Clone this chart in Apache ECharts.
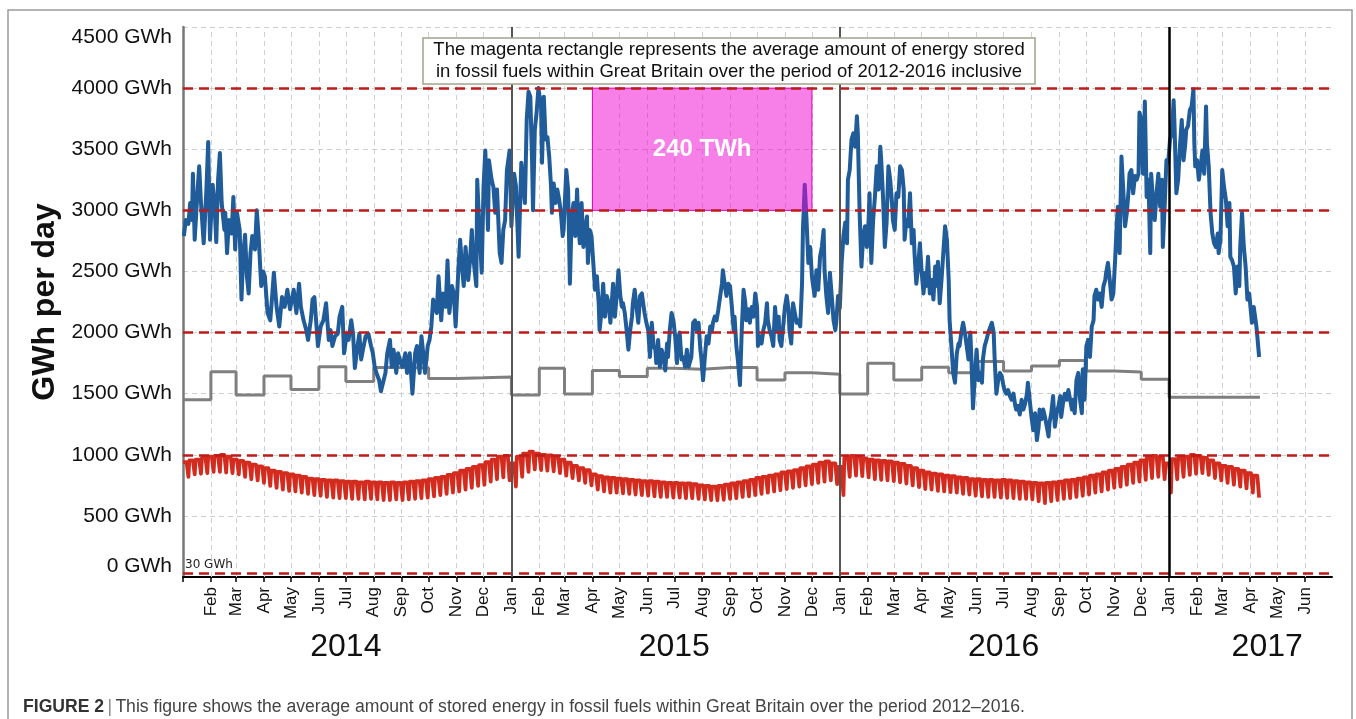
<!DOCTYPE html>
<html>
<head>
<meta charset="utf-8">
<title>Stored energy in fossil fuels, Great Britain</title>
<script src="https://cdn.jsdelivr.net/npm/echarts@6/dist/echarts.min.js"></script>
<style>
  html, body { margin: 0; padding: 0; background: #fff; }
  #chart { width: 1356px; height: 719px; }
</style>
</head>
<body>
<div id="chart"></div>
<script>
// ---- data (days are counted from 1 Jan 2014) ----
const monthNames = ['Jan', 'Feb', 'Mar', 'Apr', 'May', 'Jun', 'Jul', 'Aug', 'Sep', 'Oct', 'Nov', 'Dec'];
const xStart = '2014-01-01';
const xEnd = '2017-07-01';
const yearLabelDates = ['2014-07-01', '2015-07-01', '2016-07-01', '2017-04-20'];
const yearLineDates = ['2015-01-01', '2016-01-01', '2017-01-01'];
const refLevels = [30, 1000, 2000, 3000, 4000];

// magenta block: average stored energy 2012-2016
const rectFrom = '2015-04-01';
const rectTo = '2015-12-01';
const rectLow = 3000;
const rectHigh = 4000;
const rectLabel = '240 TWh';

const noteLines = [
  'The magenta rectangle represents the average amount of energy stored',
  'in fossil fuels within Great Britain over the period of 2012-2016 inclusive'
];

// blue: daily gas demand [day, GWh]
const blue2014 = [[1,2790],[3,2920],[6,2890],[8,3060],[10,2920],[11,3300],[13,2760],[16,3140],[18,3360],[20,3060],[23,2730],[26,3170],[28,3560],[30,2760],[33,3210],[35,3060],[37,2740],[39,3250],[41,3470],[43,3060],[46,2840],[47,2980],[49,2650],[51,2920],[54,2810],[56,3110],[58,2680],[60,2980],[63,2840],[65,2270],[67,2650],[69,2800],[71,2460],[73,2320],[75,2650],[77,2790],[80,2680],[82,3000],[84,2790],[86,2510],[87,2380],[89,2500],[91,2460],[94,2160],[97,2100],[99,2290],[101,2490],[104,2210],[107,2050],[110,2290],[113,2210],[116,2350],[119,2190],[121,2270],[123,2350],[126,2160],[129,2400],[131,2210],[134,2100],[137,2020],[139,1940],[142,2100],[144,2270],[146,2290],[149,1990],[150,1890],[153,2050],[156,2100],[159,2240],[162,1940],[164,2020],[166,1890],[169,1970],[172,1990],[174,2130],[177,2210],[179,1830],[182,1990],[184,1940],[187,2100],[189,1990],[191,1710],[194,1890],[196,1990],[198,1780],[200,1860],[203,1970],[206,1990],[209,1890],[211,1830],[213,1720],[215,1670],[218,1610],[220,1520],[223,1610],[225,1670],[227,1830],[230,1940],[232,1720],[234,1860],[237,1670],[239,1830],[242,1750],[244,1720],[247,1830],[249,1670],[252,1830],[255,1500],[258,1830],[260,1890],[263,1670],[265,1970],[267,1830],[269,1670],[272,1890],[274,1940],[276,2050],[278,2270],[280,2210],[282,2160],[284,2460],[287,2100],[289,2320],[292,2210],[294,2590],[296,2160],[299,2380],[301,2320],[303,2050],[306,2510],[308,2760],[310,2540],[312,2380],[314,2700],[317,2430],[319,2590],[321,2840],[323,2590],[326,2380],[327,3250],[329,2920],[332,2490],[334,3190],[336,3490],[339,2840],[340,3410],[343,3250],[345,3190],[347,2980],[349,3170],[352,2650],[354,2570],[356,2840],[358,2920],[360,3330],[363,3490]];
const blue2015 = [[365,2870],[368,3300],[370,3200],[373,2620],[376,3390],[380,3060],[382,3740],[384,3970],[386,3930],[388,3390],[389,3000],[391,3660],[393,3800],[395,4000],[398,3850],[399,3390],[401,3930],[403,3580],[405,3600],[407,3440],[409,3200],[410,2980],[412,3220],[414,3060],[416,3170],[418,3090],[420,2980],[422,2790],[423,2840],[426,3330],[428,3170],[430,2400],[432,2950],[434,3060],[436,2790],[438,3170],[439,2950],[441,2730],[443,3060],[445,2700],[447,2840],[449,2950],[450,2570],[452,2840],[454,2790],[456,2570],[458,2350],[460,2460],[462,2240],[463,2020],[465,2160],[467,2400],[469,2130],[471,2300],[473,2240],[475,2080],[476,2190],[478,2400],[480,2130],[482,2300],[484,2510],[486,2300],[488,2210],[489,2240],[491,2160],[493,2020],[495,1860],[497,2020],[499,2130],[500,2240],[502,2350],[504,2210],[506,2080],[508,2300],[510,2320],[512,2210],[513,2160],[515,2080],[517,2020],[519,1800],[521,2080],[523,1890],[525,1860],[526,1750],[528,1940],[530,1720],[532,1860],[534,1800],[536,1690],[538,1910],[539,1800],[541,2020],[543,2160],[545,2100],[547,1970],[549,1750],[550,1940],[552,2000],[554,1780],[556,1800],[558,1720],[560,1860],[562,1720],[563,1750],[565,1800],[567,2080],[569,2100],[571,2020],[573,2080],[575,1860],[576,1800],[578,1610],[580,1800],[582,1970],[584,1910],[586,2050],[588,2020],[589,2080],[591,2130],[593,2100],[595,2190],[597,2190],[599,2400],[600,2510],[602,2400],[604,2300],[606,2400],[608,2380],[610,2210],[612,2020],[613,2130],[615,1890],[617,1750],[619,1570],[621,2020],[623,2350],[625,2240],[626,2100],[628,2190],[630,2080],[632,2210],[634,2130],[636,2320],[638,2210],[639,1890],[641,1970],[643,1910],[645,2020],[647,2080],[649,2240],[650,2100],[652,2020],[654,1970],[656,1890],[658,2210],[660,2020],[662,2130],[663,1940],[665,1890],[667,2050],[669,2210],[671,2300],[673,2190],[674,2020],[676,1910],[678,2240],[680,2160],[682,2080],[684,2100],[686,2050],[688,2400],[689,2840],[691,3210],[693,2920],[695,2570],[697,2700],[699,2460],[700,2400],[702,2300],[704,2510],[706,2350],[708,2620],[710,2700],[712,2840],[713,2510],[715,2300],[717,2160],[719,2490],[721,2300],[723,2100],[725,2020],[726,2080],[728,2300]];
const blue2016 = [[730,2200],[732,2570],[734,2790],[736,2900],[738,2730],[739,3250],[741,3330],[743,3580],[745,3630],[747,3520],[749,3770],[750,3630],[752,2980],[754,2540],[756,2790],[758,2870],[760,2700],[762,2920],[763,3140],[765,2570],[767,2920],[769,3110],[771,3360],[773,3170],[775,3520],[776,3410],[778,3110],[780,2700],[782,2900],[784,3360],[786,3250],[788,3060],[789,2920],[791,2840],[793,3140],[795,3110],[797,3360],[799,3330],[801,3170],[802,2760],[804,2920],[806,2870],[808,3140],[810,2730],[812,2840],[813,2650],[815,2400],[817,2540],[819,2730],[821,2490],[823,2320],[825,2490],[826,2380],[828,2620],[830,2320],[832,2430],[834,2270],[836,2540],[838,2380],[839,2580],[841,2240],[843,2430],[845,2650],[847,2870],[849,2760],[851,2430],[852,2100],[854,1890],[856,1670],[858,1590],[860,1830],[862,1910],[863,1890],[865,2000],[867,2080],[869,2000],[871,1890],[873,1780],[875,2000],[876,1830],[878,1380],[880,1640],[882,1860],[884,1610],[886,1670],[888,1590],[889,1780],[891,1890],[893,1940],[895,2000],[897,2000],[899,2080],[901,2000],[902,1800],[904,1500],[906,1610],[908,1670],[910,1640],[912,1560],[913,1530],[915,1500],[917,1530],[919,1480],[921,1450],[923,1500],[925,1400],[926,1370],[928,1400],[930,1330],[932,1450],[934,1370],[936,1420],[938,1500],[939,1590],[941,1450],[943,1310],[945,1200],[947,1340],[949,1120],[951,1230],[952,1370],[954,1290],[956,1370],[958,1310],[962,1150],[963,1260],[965,1340],[967,1480],[969,1230],[971,1340],[973,1400],[975,1480],[976,1310],[978,1420],[980,1500],[982,1450],[984,1530],[986,1450],[988,1370],[989,1450],[991,1340],[993,1610],[995,1670],[997,1450],[999,1340],[1000,1700],[1002,1450],[1004,1890],[1006,1940],[1008,1800],[1010,2050],[1012,2100],[1013,2300],[1015,2350],[1017,2270],[1019,2320],[1021,2210],[1023,2380],[1025,2430],[1026,2490],[1028,2570],[1030,2430],[1032,2270],[1034,2320],[1036,2600],[1038,2920],[1039,3030],[1041,2650],[1043,3440],[1045,3170],[1047,2870],[1049,2980],[1051,3170],[1052,3300],[1054,3330],[1056,3140],[1058,3280],[1060,3250],[1062,3300],[1063,3800],[1065,3740],[1067,3300],[1069,3890],[1071,3110],[1073,3250],[1075,2650],[1076,3300],[1078,3090],[1080,2920],[1082,3140],[1084,3300],[1086,3030],[1088,3250],[1089,2700],[1091,3030],[1093,3410],[1095,3390]];
const blue2017 = [[1097,3580],[1099,3630],[1101,3900],[1102,3690],[1104,3140],[1106,3250],[1108,3520],[1110,3740],[1112,3410],[1114,3550],[1115,3660],[1117,3690],[1119,3820],[1121,3850],[1123,3990],[1124,3550],[1125,3360],[1127,3410],[1129,3250],[1131,3360],[1133,3490],[1135,3300],[1137,3850],[1138,3550],[1140,3360],[1142,2980],[1144,2810],[1146,2730],[1148,2700],[1150,2810],[1151,2650],[1153,2760],[1155,3330],[1157,3190],[1159,3090],[1161,2870],[1163,3060],[1164,2620],[1166,2590],[1168,2540],[1170,2320],[1172,2540],[1174,2380],[1175,2700],[1177,2980],[1179,2700],[1181,2540],[1183,2270],[1185,2320],[1187,2160],[1188,2080],[1190,2210],[1192,2210],[1193,2050],[1194,1970],[1196,1800]];

// grey: monthly step level, Jan 2014 .. Apr 2017
const greyMonthly = [
  1450, 1680, 1490, 1645, 1535, 1720, 1600, 1715, 1710, 1625, 1630, 1637,
  1490, 1708, 1498, 1689, 1640, 1708, 1700, 1715, 1715, 1612, 1672, 1659,
  1498, 1749, 1612, 1716, 1672, 1763, 1686, 1727, 1771, 1686, 1678, 1618,
  1470, 1470, 1470, 1470
];
const greyEndDay = 1197;

// red: weekly weekday level and weekend dip, one value per week from 1 Jan 2014
const redHigh = [
  940, 955, 960, 975, 985, 990, 1000, 985, 960, 950, 935, 920, 905, 890, 870, 860, 850, 840,
  830, 820, 805, 800, 795, 790, 790, 785, 780, 780, 775, 780, 775, 775, 770, 775, 770,
  775, 780, 785, 790, 800, 810, 820, 835, 850, 870, 885, 900, 915, 940, 960, 985, 990, 930,
  985, 1010, 1025, 1010, 1000, 995, 980, 960, 935, 910, 890, 875, 840, 825, 815, 810,
  805, 800, 795, 790, 785, 785, 780, 775, 770, 770, 765, 765, 760, 750, 745, 740, 745, 755,
  765, 775, 785, 795, 810, 820, 830, 840, 855, 865, 875, 890, 905, 920, 935, 945, 930, 900,
  975, 990, 985, 970, 960, 955, 950, 945, 935, 925, 910, 890, 870, 855, 845, 840, 830,
  825, 815, 810, 800, 800, 795, 795, 790, 795, 790, 785, 780, 775, 770, 765, 770, 775,
  780, 790, 795, 805, 815, 830, 840, 855, 870, 885, 900, 920, 935, 955, 975, 990, 980, 930,
  965, 975, 985, 1000, 990, 975, 955, 930, 910, 900, 885, 870, 850, 830
];
const redLow = [
  820, 840, 845, 850, 860, 860, 855, 850, 840, 820, 800, 790, 770, 745, 730, 715, 705, 700,
  690, 680, 670, 665, 655, 650, 645, 645, 640, 640, 635, 640, 635, 630, 630, 635, 630,
  635, 640, 645, 650, 660, 670, 680, 690, 700, 715, 730, 745, 755, 780, 800, 815, 790, 740,
  820, 860, 880, 875, 870, 865, 850, 830, 810, 790, 770, 750, 715, 700, 690, 690,
  685, 680, 675, 670, 665, 660, 655, 655, 650, 650, 645, 645, 640, 635, 630, 628, 632, 640,
  645, 655, 660, 670, 680, 690, 700, 710, 720, 730, 740, 750, 760, 770, 780, 790, 760, 670,
  820, 830, 825, 815, 800, 795, 790, 785, 775, 765, 750, 735, 720, 715, 705, 700, 695,
  690, 680, 675, 665, 660, 655, 655, 650, 648, 645, 640, 640, 635, 620, 605, 620, 630,
  640, 645, 655, 665, 675, 690, 700, 715, 730, 740, 755, 770, 780, 795, 810, 820, 800, 690,
  800, 820, 835, 845, 850, 835, 810, 790, 770, 755, 740, 725, 690, 650
];

// ---- helpers ----
function dayTime(d) { return new Date(2014, 0, 1 + d).getTime(); }
function monthTime(i) { return new Date(2014, i, 1).getTime(); }
function dateTime(s) {
  const p = s.split('-').map(Number);
  return new Date(p[0], p[1] - 1, p[2]).getTime();
}

const bluePoints = blue2014.concat(blue2015, blue2016, blue2017).map(p => [dayTime(p[0]), p[1]]);

const greyPoints = greyMonthly.map((v, i) => [monthTime(i), v]);
greyPoints.push([dayTime(greyEndDay), greyMonthly[greyMonthly.length - 1]]);

const redPoints = [];
redHigh.forEach((hi, k) => {
  redPoints.push([dayTime(7 * k), hi], [dayTime(7 * k + 4), hi], [dayTime(7 * k + 6), redLow[k]]);
});

const monthTicks = [];
for (let i = 0; i < 42; i++) monthTicks.push(monthTime(i)); // Jan 2014 .. Jun 2017
const yearTicks = yearLabelDates.map(dateTime);

const font = 'Liberation Sans, Arial, sans-serif';
const redDash = { color: '#bf1a1a', width: 2.5, type: [10, 6] };

const refLines = refLevels.map(v => {
  const item = { yAxis: v, lineStyle: redDash };
  if (v === 30) {
    item.label = {
      show: true, position: 'insideStartTop', formatter: '30 GWh', distance: 2,
      color: '#222', fontSize: 12, fontFamily: 'DejaVu Sans'
    };
  }
  return item;
});
yearLineDates.forEach((d, i) => {
  refLines.push({
    xAxis: dateTime(d),
    lineStyle: i < 2 ? { color: '#555', width: 2, type: 'solid' } : { color: '#000', width: 2.5, type: 'solid' }
  });
});

const chart = echarts.init(document.getElementById('chart'));
chart.setOption({
  animation: false,
  backgroundColor: '#fff',
  grid: { left: 183, right: 24, top: 27, bottom: 142 },
  xAxis: [{
    // dates as timestamps on a value scale, so ticks can sit on month starts
    type: 'value',
    min: dateTime(xStart),
    max: dateTime(xEnd),
    axisLine: { lineStyle: { color: '#000', width: 2 } },
    axisTick: { customValues: monthTicks, length: 5, lineStyle: { color: '#000', width: 1.5 } },
    axisLabel: {
      customValues: monthTicks.slice(1),
      rotate: 90, margin: 10, fontSize: 17, color: '#111', fontFamily: font,
      formatter: v => monthNames[new Date(v).getMonth()]
    },
    splitLine: { show: false }
  }, {
    type: 'value',
    min: dateTime(xStart),
    max: dateTime(xEnd),
    position: 'bottom',
    offset: 40,
    axisLine: { show: false },
    axisTick: { show: false },
    splitLine: { show: false },
    axisLabel: {
      customValues: yearTicks,
      margin: 14, fontSize: 32, color: '#111', fontFamily: font,
      formatter: v => String(new Date(v).getFullYear())
    }
  }],
  yAxis: {
    type: 'value',
    min: 0,
    max: 4500,
    interval: 500,
    name: 'GWh per day',
    nameLocation: 'middle',
    nameGap: 122,
    nameTextStyle: { fontSize: 32, fontWeight: 'bold', color: '#111', fontFamily: font },
    axisLine: { show: true, lineStyle: { color: '#777', width: 2.5 } },
    axisTick: { show: false },
    axisLabel: {
      formatter: v => v + ' GWh', fontSize: 21, color: '#111', margin: 11, fontFamily: font,
      verticalAlignMinLabel: 'bottom', verticalAlignMaxLabel: 'top'
    },
    splitLine: { lineStyle: { color: '#cdcdcd', type: [5, 4], width: 1 } }
  },
  series: [
    {
      name: 'month grid', type: 'line', data: [], silent: true, z: 1,
      markLine: {
        z: 1, silent: true, symbol: ['none', 'none'], label: { show: false },
        lineStyle: { color: '#cfcfcf', type: [5, 4], width: 1 },
        data: monthTicks.slice(1).map(t => ({ xAxis: t }))
      }
    },
    {
      name: 'grey', type: 'line', step: 'end', data: greyPoints, showSymbol: false, z: 2,
      lineStyle: { color: '#7f7f7f', width: 3 }, itemStyle: { color: '#7f7f7f' }
    },
    {
      name: 'red', type: 'line', data: redPoints, showSymbol: false, z: 3,
      lineStyle: { color: '#d42b1f', width: 3.8, join: 'round' }, itemStyle: { color: '#d42b1f' }
    },
    {
      name: 'blue', type: 'line', data: bluePoints, showSymbol: false, z: 4,
      lineStyle: { color: '#1f5c99', width: 4, join: 'round' }, itemStyle: { color: '#1f5c99' }
    },
    {
      name: 'refs', type: 'line', data: [], silent: true, z: 5,
      markArea: {
        z: 6, silent: true,
        itemStyle: { color: 'rgba(240,0,210,0.5)', borderColor: '#e000c0', borderWidth: 1 },
        label: {
          show: true, position: 'inside', formatter: rectLabel,
          color: '#fff', fontSize: 24, fontWeight: 'bold', fontFamily: font
        },
        data: [[
          { xAxis: dateTime(rectFrom), yAxis: rectLow },
          { xAxis: dateTime(rectTo), yAxis: rectHigh }
        ]]
      },
      markLine: {
        z: 7, silent: true, symbol: ['none', 'none'], label: { show: false },
        data: refLines
      }
    }
  ],
  graphic: [
    {
      type: 'rect', silent: true, z: -10,
      shape: { x: 8, y: 10, width: 1344, height: 730 },
      style: { fill: 'none', stroke: '#9b9b9b', lineWidth: 1.5 }
    },
    {
      type: 'rect', silent: true, z: 100,
      shape: { x: 423, y: 38, width: 612, height: 46 },
      style: { fill: '#fff', stroke: '#a3a28f', lineWidth: 1.5 }
    },
    {
      type: 'text', silent: true, z: 101, x: 729, y: 61,
      style: {
        text: noteLines.join('\n'), font: '18.5px ' + font, fill: '#111',
        align: 'center', verticalAlign: 'middle', textAlign: 'center', textVerticalAlign: 'middle',
        lineHeight: 22
      }
    },
    {
      type: 'text', silent: true, z: 101, x: 23, y: 707,
      style: {
        text: '{b|FIGURE 2} {s||} {n|This figure shows the average amount of stored energy in fossil fuels within Great Britain over the period 2012–2016.}',
        verticalAlign: 'middle', textVerticalAlign: 'middle',
        rich: {
          b: { fontSize: 17.6, fontWeight: 'bold', fontFamily: font, fill: '#333', color: '#333' },
          s: { fontSize: 17.6, fontFamily: font, fill: '#888', color: '#888' },
          n: { fontSize: 17.6, fontFamily: font, fill: '#444', color: '#444' }
        }
      }
    }
  ]
});
</script>
</body>
</html>
